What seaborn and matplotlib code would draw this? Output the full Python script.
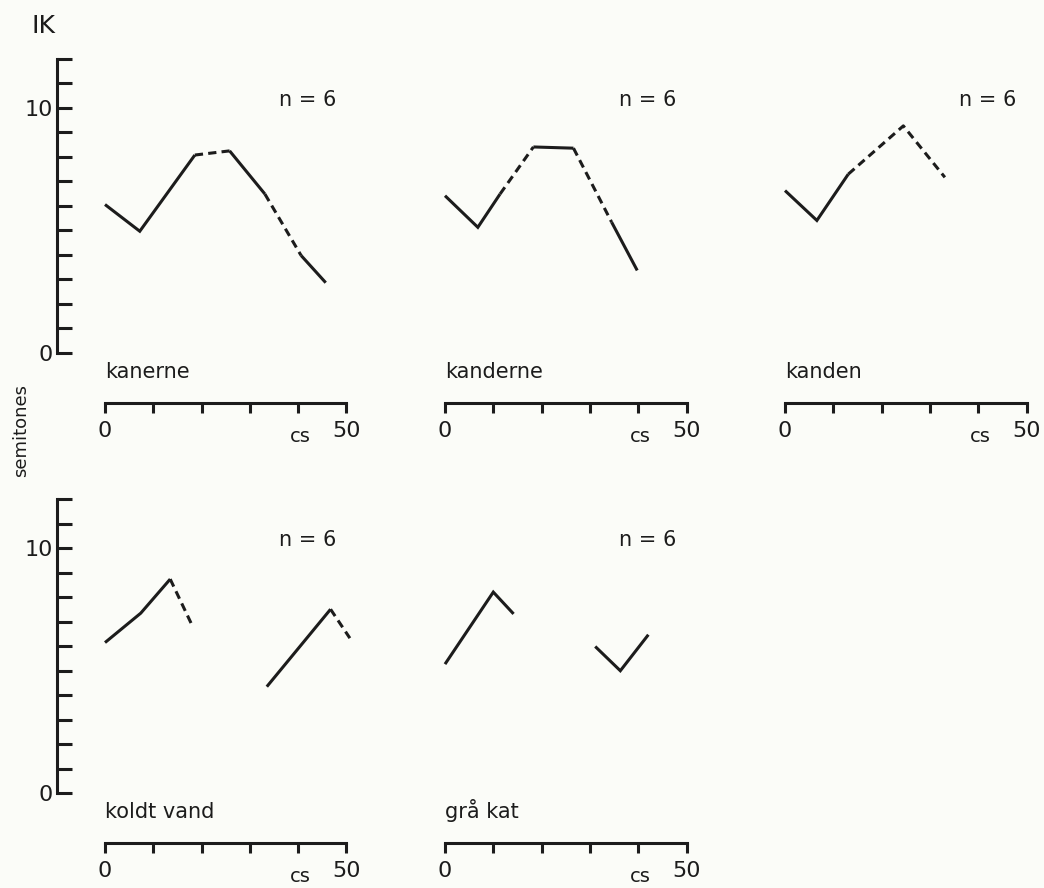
import pandas as pd
import seaborn as sns
import matplotlib.pyplot as plt

# Pitch contours (semitones over centiseconds)
kanerne_cs = [0, 7.2, 18.6, 25.8, 33.1, 40.6, 45.7]
kanerne_st = [6.06, 4.97, 8.08, 8.25, 6.49, 3.98, 2.87]
kanerne_seg = ["solid", "solid", "dashed", "solid", "dashed", "solid"]

kanderne_cs = [0, 6.8, 11.4, 18.3, 26.6, 34.5, 39.8]
kanderne_st = [6.42, 5.13, 6.49, 8.41, 8.36, 5.34, 3.37]
kanderne_seg = ["solid", "solid", "dashed", "solid", "dashed", "solid"]

kanden_cs = [0, 6.6, 13.1, 24.5, 33.1]
kanden_st = [6.63, 5.41, 7.3, 9.27, 7.17]
kanden_seg = ["solid", "solid", "dashed", "dashed"]

koldt_cs = [0, 7.4, 13.5, 17.9, 33.5, 46.7, 50.7]
koldt_st = [6.14, 7.34, 8.73, 6.9, 4.34, 7.5, 6.32]
koldt_seg = ["solid", "solid", "dashed", None, "solid", "dashed"]

grakat_cs = [0, 10.0, 14.2, 31.1, 36.3, 42.1]
grakat_st = [5.26, 8.2, 7.31, 5.98, 4.99, 6.46]
grakat_seg = ["solid", "solid", None, "solid", "solid"]

words = ["kanerne", "kanderne", "kanden", "koldt vand", "grå kat"]
n_label = "n = 6"
x_ticks = [0, 10, 20, 30, 40, 50]
y_ticks = list(range(0, 13))


def build_runs(word, xs, ys, segs):
    # merge consecutive segments with the same style into one run
    rows = []
    run = -1
    prev = None
    for i, s in enumerate(segs):
        if s is None:
            prev = None
            continue
        if s != prev:
            run += 1
            rows.append(dict(word=word, run=run, style=s, cs=xs[i], st=ys[i]))
        rows.append(dict(word=word, run=run, style=s, cs=xs[i + 1], st=ys[i + 1]))
        prev = s
    return rows


rows = []
rows += build_runs(words[0], kanerne_cs, kanerne_st, kanerne_seg)
rows += build_runs(words[1], kanderne_cs, kanderne_st, kanderne_seg)
rows += build_runs(words[2], kanden_cs, kanden_st, kanden_seg)
rows += build_runs(words[3], koldt_cs, koldt_st, koldt_seg)
rows += build_runs(words[4], grakat_cs, grakat_st, grakat_seg)
df = pd.DataFrame(rows)

sns.set_style("white")
plt.rcParams["font.family"] = ["DejaVu Sans"]
paper = "#fbfcf8"
ink = "#1c1c1c"
num_font = ["Liberation Sans Narrow", "DejaVu Sans"]

W, H = 1044, 888
fig = plt.figure(figsize=(W / 100, H / 100), dpi=100, facecolor=paper)

# pixel layout of the panels
col_zero = [105, 445, 785]
row_zero = [353, 793]
px_cs = 4.83
px_st = 24.5
xlim = (-11, 53)
ylim = (-3.5, 12.5)

for k, word in enumerate(words):
    r, c = divmod(k, 3)
    left = col_zero[c] + xlim[0] * px_cs
    width = (xlim[1] - xlim[0]) * px_cs
    top = row_zero[r] - ylim[1] * px_st
    height = (ylim[1] - ylim[0]) * px_st
    ax = fig.add_axes([left / W, 1 - (top + height) / H, width / W, height / H])
    ax.set_facecolor("none")

    sub = df[df["word"] == word]
    sns.lineplot(data=sub, x="cs", y="st", units="run", estimator=None,
                 style="style", dashes={"solid": "", "dashed": (2.7, 1.7)},
                 color=ink, linewidth=2.2, legend=False, sort=False, ax=ax)
    for line in ax.get_lines():
        line.set_solid_joinstyle("miter")
        line.set_solid_capstyle("butt")

    ax.set_xlim(*xlim)
    ax.set_ylim(*ylim)
    ax.set_xlabel("")
    ax.set_ylabel("")
    for side in ["top", "right"]:
        ax.spines[side].set_visible(False)

    # x axis drawn below the panel
    ax.spines["bottom"].set_position(("data", -2.03))
    ax.spines["bottom"].set_bounds(0, 50)
    ax.spines["bottom"].set_linewidth(2.2)
    ax.spines["bottom"].set_color(ink)
    ax.set_xticks(x_ticks)
    ax.set_xticklabels(["0", "", "", "", "", "50"], family=num_font, fontsize=16)
    ax.tick_params(axis="x", bottom=True, direction="out", length=7, width=2.2,
                   color=ink, pad=6, labelcolor=ink)

    if c == 0:
        ax.spines["left"].set_position(("data", -10))
        ax.spines["left"].set_bounds(0, 12)
        ax.spines["left"].set_linewidth(2.2)
        ax.spines["left"].set_color(ink)
        ax.set_yticks(y_ticks)
        ax.set_yticklabels(["10" if t == 10 else "0" if t == 0 else "" for t in y_ticks],
                           family=num_font, fontsize=16)
        ax.tick_params(axis="y", left=True, direction="in", length=10.5, width=2.2,
                       color=ink, pad=3, labelcolor=ink)
    else:
        ax.spines["left"].set_visible(False)
        ax.set_yticks([])

    ax.text(0, -1.0, word, fontsize=15, color=ink, ha="left", va="baseline")
    ax.text(36, 10.1, n_label, fontsize=15, color=ink, ha="left", va="baseline")
    ax.text(40.4, -3.4, "cs", fontsize=14, color=ink, ha="center", va="center")

fig.text(32 / W, 1 - 33 / H, "IK", fontsize=18, color=ink, ha="left", va="baseline")
fig.text(21 / W, 1 - 430 / H, "semitones", fontsize=13, color=ink,
         rotation=90, ha="center", va="center")

fig.savefig("out.png", dpi=100, facecolor=paper)
